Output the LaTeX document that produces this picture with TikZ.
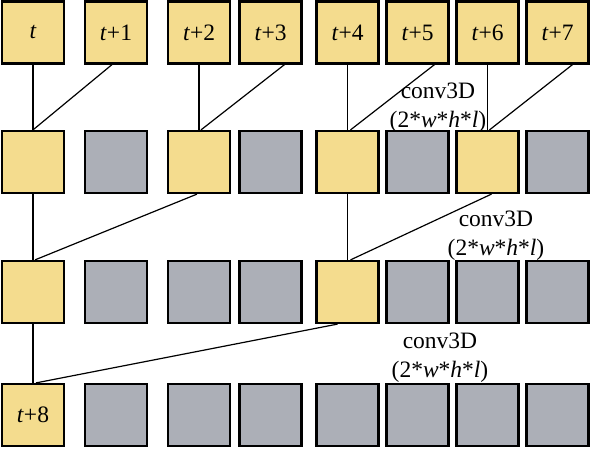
\documentclass[tikz,border=0pt]{standalone}
\usepackage{fontspec}
\setmainfont{Liberation Serif}
\usetikzlibrary{calc}
\definecolor{boxyellow}{HTML}{F4DC8E}
\definecolor{boxgray}{HTML}{ACAFB7}
\begin{document}
\begin{tikzpicture}[x=1pt,y=-1pt,
  cell/.style={draw=black,line width=2.2pt,minimum width=62pt,minimum height=62pt,inner sep=0pt,
     font=\fontsize{23.5}{26}\selectfont},
  ycell/.style={cell,fill=boxyellow},
  gcell/.style={cell,fill=boxgray},
  link/.style={line width=1.2pt,draw=black},
  lbl/.style={align=center,inner sep=0pt,font=\fontsize{23.5}{29}\selectfont}]
\useasboundingbox (0,0) rectangle (591,449);
% row 1
\node[ycell] (r1c0) at (33,32.5) {\textit{t}};
\node[ycell] (r1c1) at (116,32.5) {\textit{t}+1};
\node[ycell] (r1c2) at (199,32.5) {\textit{t}+2};
\node[ycell] (r1c3) at (270.5,32.5) {\textit{t}+3};
\node[ycell] (r1c4) at (347.5,32.5) {\textit{t}+4};
\node[ycell] (r1c5) at (417.5,32.5) {\textit{t}+5};
\node[ycell] (r1c6) at (487.5,32.5) {\textit{t}+6};
\node[ycell] (r1c7) at (557.5,32.5) {\textit{t}+7};
% row 2
\node[ycell] (r2c0) at (33,162) {};
\node[gcell] (r2c1) at (116,162) {};
\node[ycell] (r2c2) at (199,162) {};
\node[gcell] (r2c3) at (270.5,162) {};
\node[ycell] (r2c4) at (347.5,162) {};
\node[gcell] (r2c5) at (417.5,162) {};
\node[ycell] (r2c6) at (487.5,162) {};
\node[gcell] (r2c7) at (557.5,162) {};
% row 3
\node[ycell] (r3c0) at (33,292) {};
\node[gcell] (r3c1) at (116,292) {};
\node[gcell] (r3c2) at (199,292) {};
\node[gcell] (r3c3) at (270.5,292) {};
\node[ycell] (r3c4) at (347.5,292) {};
\node[gcell] (r3c5) at (417.5,292) {};
\node[gcell] (r3c6) at (487.5,292) {};
\node[gcell] (r3c7) at (557.5,292) {};
% row 4
\node[ycell] (r4c0) at (33,415) {\textit{t}+8};
\node[gcell] (r4c1) at (116,415) {};
\node[gcell] (r4c2) at (199,415) {};
\node[gcell] (r4c3) at (270.5,415) {};
\node[gcell] (r4c4) at (347.5,415) {};
\node[gcell] (r4c5) at (417.5,415) {};
\node[gcell] (r4c6) at (487.5,415) {};
\node[gcell] (r4c7) at (557.5,415) {};
% connectors row1 -> row2
\draw[link] (r1c0.south) -- (r2c0.north);
\draw[link] ($(r1c1.south)+(-4,0)$) -- (r2c0.north);
\draw[link] (r1c2.south) -- (r2c2.north);
\draw[link] ($(r1c3.south)+(14,0)$) -- ($(r2c2.north)+(2,0)$);
\draw[link] (r1c4.south) -- (r2c4.north);
\draw[link] ($(r1c5.south)+(17,0)$) -- ($(r2c4.north)+(3,0)$);
\draw[link] (r1c6.south) -- (r2c6.north);
\draw[link] ($(r1c7.south)+(15,0)$) -- ($(r2c6.north)+(2,0)$);
% row2 -> row3
\draw[link] (r2c0.south) -- (r3c0.north);
\draw[link] ($(r2c2.south)+(-2,0)$) -- ($(r3c0.north)+(2,0)$);
\draw[link] (r2c4.south) -- (r3c4.north);
\draw[link] ($(r2c6.south)+(4,0)$) -- ($(r3c4.north)+(3,0)$);
% row3 -> row4
\draw[link] (r3c0.south) -- (r4c0.north);
\draw[link] ($(r3c4.south)+(-10,0)$) -- ($(r4c0.north)+(3,0)$);
% labels
\node[lbl] (l1) at (438,107.5) {conv3D\\(2*\textit{w}*\textit{h}*\textit{l})};
\node[lbl] (l2) at (496,235.5) {conv3D\\(2*\textit{w}*\textit{h}*\textit{l})};
\node[lbl] (l3) at (440,357.5) {conv3D\\(2*\textit{w}*\textit{h}*\textit{l})};
\end{tikzpicture}
\end{document}
